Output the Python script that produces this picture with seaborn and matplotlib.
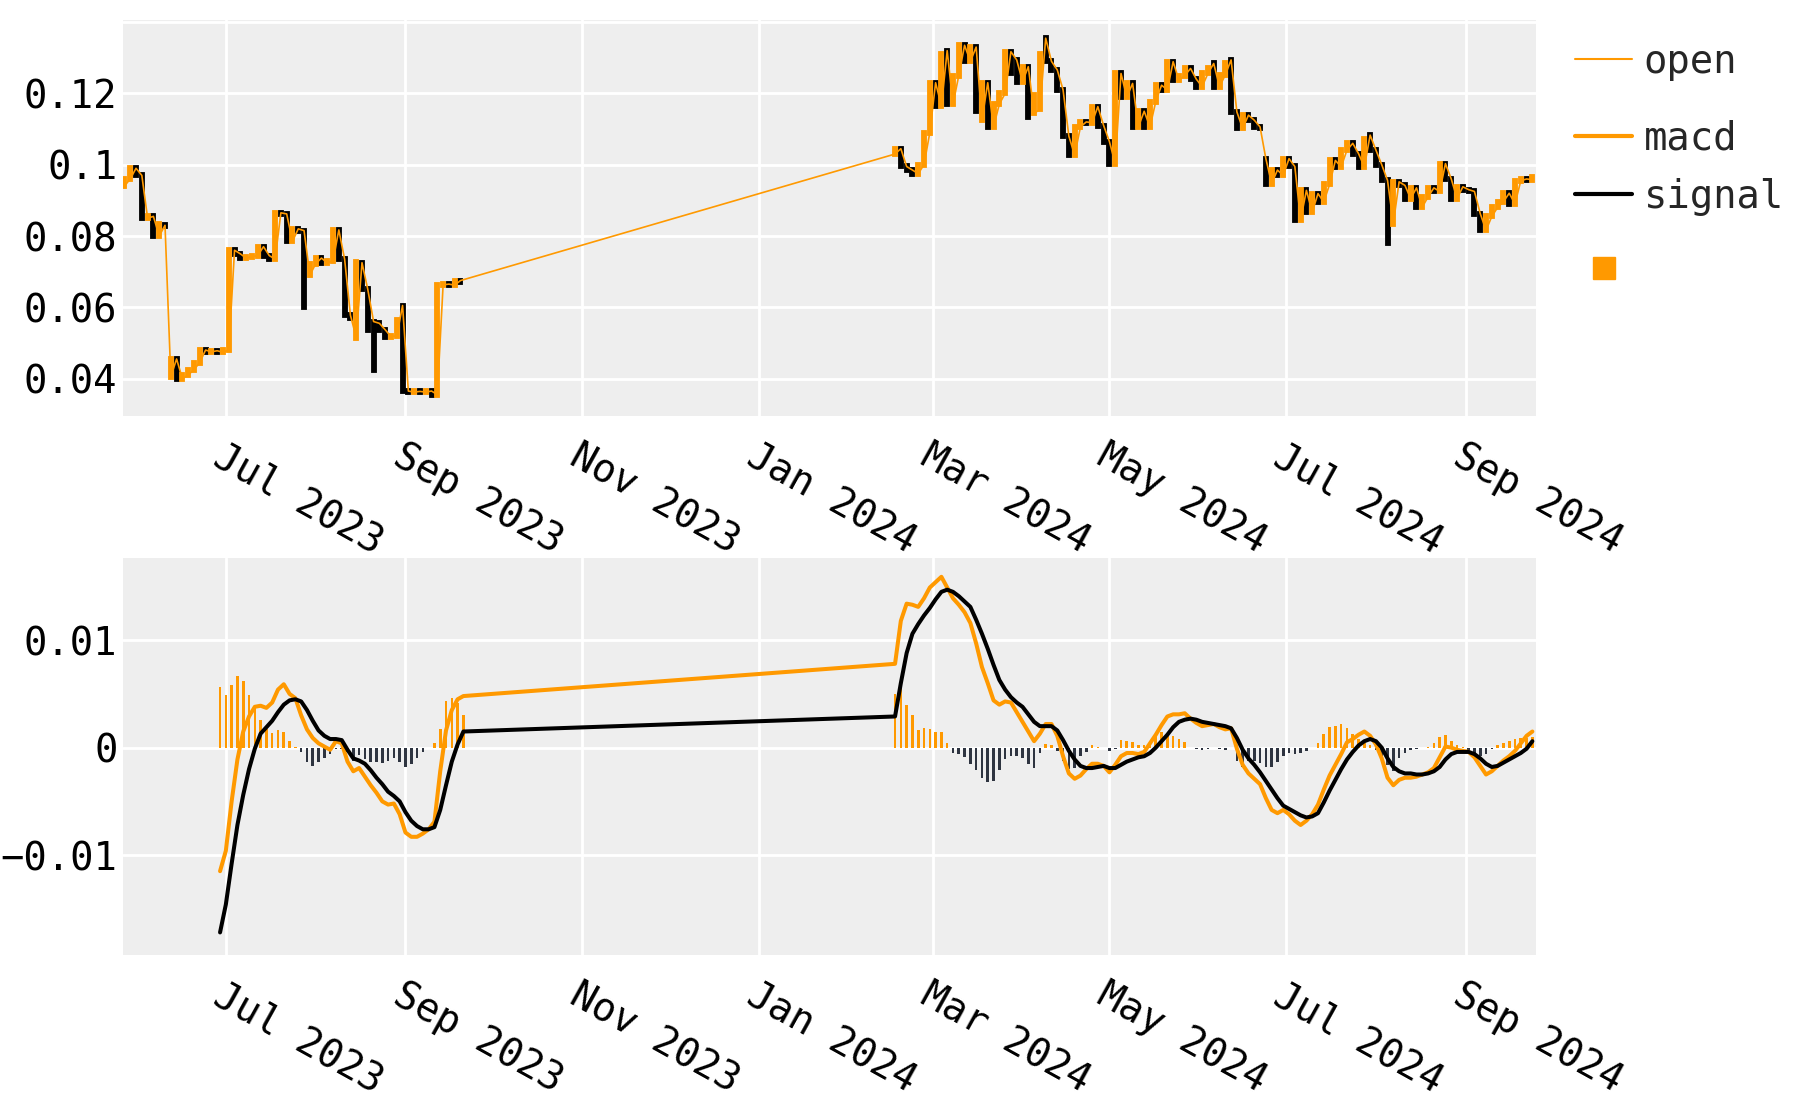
import numpy as np
import pandas as pd
import matplotlib
matplotlib.use("Agg")
import matplotlib.pyplot as plt
import matplotlib.dates as mdates
import matplotlib.transforms as mtransforms
from matplotlib.lines import Line2D
import seaborn as sns

# ---------------- data ----------------
step = "2D"

price1_start = "2023-05-27"
open1 = [0.0940, 0.0960, 0.0990, 0.0970, 0.0850, 0.0855, 0.0800, 0.0830, 0.0405, 0.0455,
         0.0400, 0.0410, 0.0425, 0.0445, 0.0480, 0.0475, 0.0478, 0.0474,
         0.0480, 0.0760, 0.0750, 0.0738, 0.0742, 0.0745, 0.0770, 0.0745, 0.0735, 0.0865,
         0.0862, 0.0785, 0.0820, 0.0815, 0.0690, 0.0722, 0.0738, 0.0725, 0.0730, 0.0817,
         0.0735, 0.0578, 0.0515, 0.0725, 0.0650, 0.0560, 0.0555, 0.0537, 0.0518, 0.0520,
         0.0605, 0.0365, 0.0362, 0.0364, 0.0362, 0.0365, 0.0355, 0.0663, 0.0665, 0.0662, 0.0675]
close1 = [0.0960, 0.0990, 0.0970, 0.0850, 0.0855, 0.0800, 0.0835, 0.0828, 0.0455, 0.0400,
          0.0410, 0.0425, 0.0445, 0.0480, 0.0475, 0.0478, 0.0474, 0.0480,
          0.0760, 0.0750, 0.0738, 0.0742, 0.0745, 0.0770, 0.0745, 0.0735, 0.0865, 0.0862,
          0.0785, 0.0820, 0.0815, 0.0600, 0.0722, 0.0738, 0.0725, 0.0730, 0.0817, 0.0735,
          0.0578, 0.0570, 0.0728, 0.0650, 0.0535, 0.0425, 0.0537, 0.0518, 0.0520, 0.0565,
          0.0365, 0.0362, 0.0364, 0.0362, 0.0365, 0.0355, 0.0663, 0.0665, 0.0662, 0.0675, 0.0670]

price2_start = "2024-02-17"
open2 = [0.1030, 0.1045, 0.0995, 0.0985, 0.0975, 0.1000, 0.1090,
         0.1230, 0.1165, 0.1320, 0.1170, 0.1250, 0.1335, 0.1290, 0.1330, 0.1125, 0.1230, 0.1106,
         0.1170, 0.1200, 0.1317, 0.1294, 0.1233, 0.1275, 0.1144, 0.1155, 0.1355, 0.1290, 0.1266,
         0.1210, 0.1080, 0.1027, 0.1106, 0.1120, 0.1118, 0.1163, 0.1110, 0.1065, 0.1003, 0.1256,
         0.1190, 0.1228, 0.1106, 0.1150, 0.1106, 0.1177, 0.1223, 0.1210, 0.1289, 0.1237, 0.1250,
         0.1270, 0.1240, 0.1219, 0.1256, 0.1284, 0.1219, 0.1252, 0.1294, 0.1148, 0.1102, 0.1139,
         0.1125, 0.1106, 0.1017, 0.0947, 0.0985, 0.0970, 0.1017, 0.0995, 0.0845, 0.0928, 0.0867,
         0.0919, 0.0895, 0.0945, 0.1012, 0.0994, 0.1041, 0.1060, 0.1031, 0.0994, 0.1083, 0.1041,
         0.1000, 0.0956, 0.0835, 0.0952, 0.0942, 0.0905, 0.0935, 0.0881, 0.0910, 0.0935, 0.0925,
         0.1003, 0.0960, 0.0905, 0.0938, 0.0930, 0.0925, 0.0863, 0.0816, 0.0855, 0.0880, 0.0896,
         0.0920, 0.0890, 0.0955, 0.0960, 0.0958]
close2 = [0.1045, 0.0995, 0.0985, 0.0975, 0.1000, 0.1090, 0.1230,
          0.1165, 0.1310, 0.1170, 0.1250, 0.1335, 0.1290, 0.1330, 0.1150, 0.1230, 0.1106, 0.1170,
          0.1200, 0.1317, 0.1256, 0.1233, 0.1275, 0.1135, 0.1195, 0.1312, 0.1290, 0.1266, 0.1210,
          0.1080, 0.1027, 0.1106, 0.1120, 0.1118, 0.1163, 0.1110, 0.1065, 0.1003, 0.1256, 0.1190,
          0.1228, 0.1106, 0.1150, 0.1106, 0.1177, 0.1223, 0.1210, 0.1289, 0.1237, 0.1250, 0.1270,
          0.1240, 0.1219, 0.1256, 0.1270, 0.1219, 0.1252, 0.1284, 0.1148, 0.1102, 0.1139, 0.1125,
          0.1106, 0.1102, 0.0947, 0.0985, 0.0970, 0.1017, 0.0995, 0.0845, 0.0928, 0.0867, 0.0919,
          0.0895, 0.0945, 0.1012, 0.0994, 0.1041, 0.1060, 0.1031, 0.0994, 0.1073, 0.1041, 0.1000,
          0.0956, 0.0780, 0.0952, 0.0942, 0.0905, 0.0935, 0.0881, 0.0910, 0.0935, 0.0925, 0.1003,
          0.0960, 0.0905, 0.0938, 0.0930, 0.0925, 0.0863, 0.0816, 0.0855, 0.0880, 0.0896, 0.0920,
          0.0890, 0.0955, 0.0960, 0.0958, 0.0965]

macd1_start = "2023-06-29"
macd1 = [-0.0115, -0.0096, -0.0050, -0.0011, 0.0015, 0.0029, 0.0038, 0.0039, 0.0037, 0.0042,
         0.0054, 0.0059, 0.0050, 0.0046, 0.0030, 0.0017, 0.0009, 0.0004, 0.0001, -0.0002,
         0.0006, 0.0004, -0.0013, -0.0022, -0.0019, -0.0027, -0.0035, -0.0042, -0.0050, -0.0053,
         -0.0052, -0.0062, -0.0079, -0.0083, -0.0083, -0.0080, -0.0076, -0.0069, -0.0022, 0.0016,
         0.0035, 0.0045, 0.0048]
signal1 = [-0.0172, -0.0146, -0.0108, -0.0072, -0.0044, -0.0020, -0.0001, 0.0013, 0.0019, 0.0025,
           0.0033, 0.0040, 0.0044, 0.0045, 0.0043, 0.0035, 0.0025, 0.0016, 0.0011, 0.0008,
           0.0008, 0.0007, -0.0002, -0.0010, -0.0012, -0.0015, -0.0021, -0.0028, -0.0034, -0.0041,
           -0.0045, -0.0050, -0.0060, -0.0068, -0.0073, -0.0076, -0.0076, -0.0074, -0.0058, -0.0035,
           -0.0013, 0.0003, 0.0015]
hist1 = [0.0056, 0.0049, 0.0058, 0.0067, 0.0062, 0.0049, 0.0038, 0.0026, 0.0017, 0.0014,
         0.0016, 0.0015, 0.0006, 0.0001, -0.0004, -0.0013, -0.0017, -0.0013, -0.0010, -0.0006,
         -0.0001, -0.0001, -0.0004, -0.0012, -0.0007, -0.0011, -0.0013, -0.0013, -0.0014, -0.0012,
         -0.0010, -0.0013, -0.0018, -0.0015, -0.0010, -0.0004, 0.0000, 0.0004, 0.0017, 0.0043,
         0.0046, 0.0042, 0.0030]

macd2_start = "2024-02-17"
macd2 = [0.0078, 0.0118, 0.0134, 0.0133, 0.0131, 0.0139, 0.0149,
         0.0154, 0.0159, 0.0149, 0.0139, 0.0133, 0.0126, 0.0116, 0.0097, 0.0075, 0.0060, 0.0044,
         0.0040, 0.0043, 0.0042, 0.0033, 0.0024, 0.0015, 0.0006, 0.0013, 0.0022, 0.0022, 0.0011,
         -0.0008, -0.0024, -0.0029, -0.0026, -0.0020, -0.0015, -0.0015, -0.0017, -0.0023, -0.0016, -0.0008,
         -0.0005, -0.0005, -0.0006, -0.0004, 0.0004, 0.0012, 0.0021, 0.0029, 0.0031, 0.0031, 0.0032,
         0.0027, 0.0023, 0.0020, 0.0021, 0.0022, 0.0019, 0.0017, 0.0018, -0.0001, -0.0016, -0.0024,
         -0.0029, -0.0034, -0.0047, -0.0058, -0.0061, -0.0058, -0.0062, -0.0068, -0.0072, -0.0068, -0.0062,
         -0.0053, -0.0039, -0.0026, -0.0016, -0.0006, 0.0005, 0.0008, 0.0012, 0.0015, 0.0011, 0.0003,
         -0.0010, -0.0028, -0.0035, -0.0030, -0.0028, -0.0028, -0.0027, -0.0025, -0.0023, -0.0019, -0.0009,
         0.0001, 0.0000, -0.0002, -0.0003, -0.0004, -0.0009, -0.0017, -0.0025, -0.0022, -0.0017, -0.0012,
         -0.0008, -0.0003, 0.0004, 0.0011, 0.0015]
signal2 = [0.0029, 0.0060, 0.0088, 0.0106, 0.0115, 0.0123, 0.0130,
           0.0138, 0.0145, 0.0147, 0.0145, 0.0141, 0.0136, 0.0131, 0.0119, 0.0106, 0.0092, 0.0077,
           0.0063, 0.0054, 0.0047, 0.0042, 0.0038, 0.0031, 0.0024, 0.0020, 0.0020, 0.0020, 0.0016,
           0.0007, -0.0003, -0.0011, -0.0017, -0.0019, -0.0019, -0.0018, -0.0017, -0.0019, -0.0019, -0.0016,
           -0.0013, -0.0011, -0.0009, -0.0008, -0.0005, 0.0000, 0.0006, 0.0012, 0.0019, 0.0024, 0.0026,
           0.0027, 0.0026, 0.0024, 0.0023, 0.0022, 0.0021, 0.0020, 0.0018, 0.0009, -0.0002, -0.0010,
           -0.0016, -0.0023, -0.0031, -0.0039, -0.0047, -0.0054, -0.0057, -0.0060, -0.0063, -0.0065, -0.0064,
           -0.0061, -0.0051, -0.0040, -0.0030, -0.0020, -0.0011, -0.0004, 0.0002, 0.0006, 0.0008, 0.0006,
           0.0000, -0.0010, -0.0018, -0.0022, -0.0024, -0.0024, -0.0025, -0.0025, -0.0024, -0.0022, -0.0018,
           -0.0011, -0.0006, -0.0004, -0.0004, -0.0004, -0.0006, -0.0010, -0.0015, -0.0018, -0.0017, -0.0014,
           -0.0011, -0.0008, -0.0005, -0.0001, 0.0006]
hist2 = [0.0050, 0.0058, 0.0040, 0.0030, 0.0016, 0.0018, 0.0017,
         0.0015, 0.0015, 0.0004, -0.0005, -0.0006, -0.0009, -0.0015, -0.0021, -0.0028, -0.0032, -0.0031,
         -0.0021, -0.0011, -0.0008, -0.0008, -0.0010, -0.0015, -0.0019, -0.0005, 0.0003, 0.0002, -0.0003,
         -0.0012, -0.0020, -0.0019, -0.0008, -0.0004, 0.0002, 0.0001, 0.0000, -0.0003, -0.0001, 0.0007,
         0.0006, 0.0005, 0.0002, 0.0002, 0.0006, 0.0013, 0.0015, 0.0013, 0.0011, 0.0008, 0.0005,
         0.0000, -0.0001, -0.0002, -0.0001, 0.0000, -0.0001, -0.0002, 0.0000, -0.0012, -0.0018, -0.0012,
         -0.0012, -0.0014, -0.0018, -0.0018, -0.0013, -0.0008, -0.0005, -0.0006, -0.0005, -0.0003, 0.0000,
         0.0004, 0.0013, 0.0019, 0.0020, 0.0022, 0.0018, 0.0013, 0.0008, 0.0004, 0.0002, -0.0002,
         -0.0008, -0.0016, -0.0022, -0.0010, -0.0005, -0.0002, -0.0001, 0.0000, 0.0001, 0.0004, 0.0010,
         0.0012, 0.0006, 0.0002, 0.0001, -0.0002, -0.0006, -0.0008, -0.0006, -0.0001, 0.0002, 0.0004,
         0.0006, 0.0008, 0.0009, 0.0009, 0.0010]

x_ticks = ["2023-07-01", "2023-09-01", "2023-11-01", "2024-01-01",
           "2024-03-01", "2024-05-01", "2024-07-01", "2024-09-01"]
x_tick_labels = ["Jul 2023", "Sep 2023", "Nov 2023", "Jan 2024",
                 "Mar 2024", "May 2024", "Jul 2024", "Sep 2024"]
top_yticks = [0.04, 0.06, 0.08, 0.10, 0.12, 0.14]
top_yticklabels = ["0.04", "0.06", "0.08", "0.1", "0.12", ""]
bot_yticks = [-0.01, 0.0, 0.01]
bot_yticklabels = ["\u22120.01", "0", "0.01"]
legend_labels = ["open", "macd", "signal", ""]

# ---------------- frames ----------------
price = pd.concat([
    pd.DataFrame({"date": pd.date_range(price1_start, periods=len(close1), freq=step),
                  "open": open1, "close": close1}),
    pd.DataFrame({"date": pd.date_range(price2_start, periods=len(close2), freq=step),
                  "open": open2, "close": close2}),
], ignore_index=True)
ind = pd.concat([
    pd.DataFrame({"date": pd.date_range(macd1_start, periods=len(macd1), freq=step),
                  "macd": macd1, "signal": signal1, "hist": hist1}),
    pd.DataFrame({"date": pd.date_range(macd2_start, periods=len(macd2), freq=step),
                  "macd": macd2, "signal": signal2, "hist": hist2}),
], ignore_index=True)

# ---------------- style ----------------
ORANGE = "#FF9900"
BLACK = "#000000"
DARK = "#2E3440"
sns.set_theme(style="darkgrid", rc={
    "axes.facecolor": "#EEEEEE",
    "figure.facecolor": "white",
    "grid.color": "white",
    "grid.linewidth": 2.0,
})
plt.rcParams["font.family"] = ["DejaVu Sans Mono", "DejaVu Sans"]
plt.rcParams["axes.unicode_minus"] = True
FS = 28

fig = plt.figure(figsize=(18, 11), dpi=100)
ax1 = fig.add_axes([123 / 1800, 1 - 416 / 1100, (1536 - 123) / 1800, (416 - 20) / 1100])
ax2 = fig.add_axes([123 / 1800, 1 - 955 / 1100, (1536 - 123) / 1800, (955 - 558) / 1100])

# candles
up = price["close"] >= price["open"]
lc_dn = ax1.vlines(price.loc[~up, "date"], price.loc[~up, "open"], price.loc[~up, "close"],
                   color=BLACK, linewidth=4.2, zorder=3)
lc_up = ax1.vlines(price.loc[up, "date"], price.loc[up, "open"], price.loc[up, "close"],
                   color=ORANGE, linewidth=4.2, zorder=3)
for lc in (lc_dn, lc_up):
    lc.set_capstyle("projecting")
sns.lineplot(data=price, x="date", y="open", color=ORANGE, linewidth=1.2,
             estimator=None, sort=True, legend=False, ax=ax1, zorder=4)

# macd panel
bar_colors = [ORANGE if h >= 0 else DARK for h in ind["hist"]]
ax2.bar(ind["date"], ind["hist"], width=0.9, color=bar_colors, linewidth=0, zorder=2)
sns.lineplot(data=ind, x="date", y="macd", color=ORANGE, linewidth=2.9,
             estimator=None, legend=False, ax=ax2, zorder=4)
sns.lineplot(data=ind, x="date", y="signal", color=BLACK, linewidth=2.9,
             estimator=None, legend=False, ax=ax2, zorder=5)

xmin = pd.Timestamp("2023-05-26 12:00")
xmax = pd.Timestamp("2024-09-25 06:00")
tick_dates = pd.to_datetime(x_ticks)

for ax, yt, ytl, ylim in [(ax1, top_yticks, top_yticklabels, (0.0295, 0.1406)),
                          (ax2, bot_yticks, bot_yticklabels, (-0.0193, 0.01765))]:
    ax.set_xlim(xmin, xmax)
    ax.set_ylim(*ylim)
    ax.set_xticks(tick_dates)
    ax.set_xticklabels(x_tick_labels, fontsize=FS)
    ax.set_yticks(yt)
    ax.set_yticklabels(ytl, fontsize=FS)
    ax.set_xlabel("")
    ax.set_ylabel("")
    for s in ax.spines.values():
        s.set_visible(False)
    ax.tick_params(axis="both", length=0, colors="black")
    ax.tick_params(axis="y", pad=4)
    ax.tick_params(axis="x", pad=15)
    ax.grid(True, color="white", linewidth=2.0)
    ax.set_axisbelow(True)
    for lab in ax.get_xticklabels():
        lab.set_rotation(-29)
        lab.set_ha("left")
        lab.set_va("top")
        lab.set_rotation_mode("anchor")

# legend (individual entries positioned like the reference)
handles = [
    Line2D([], [], color=ORANGE, linewidth=1.5),
    Line2D([], [], color=ORANGE, linewidth=3.0),
    Line2D([], [], color=BLACK, linewidth=3.0),
    Line2D([], [], color=ORANGE, marker="s", linestyle="None", markersize=16),
]
ys = [62, 139, 197, 271]
for h, lab, y in zip(handles, legend_labels, ys):
    fig.legend([h], [lab], loc="center left", bbox_to_anchor=(1575 / 1800, 1 - y / 1100),
               frameon=False, fontsize=FS, borderpad=0, borderaxespad=0,
               handlelength=1.47, handletextpad=0.3)

fig.savefig("out.png", dpi=100)
